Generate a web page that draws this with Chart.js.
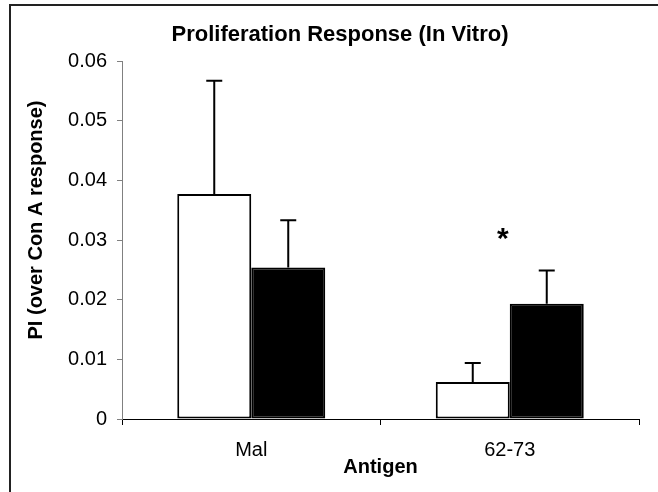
<!DOCTYPE html>
<html>
<head>
<meta charset="utf-8">
<title>Proliferation Response (In Vitro)</title>
<script src="https://cdn.jsdelivr.net/npm/chart.js@4/dist/chart.umd.min.js"></script>
<style>
  html, body { margin: 0; padding: 0; background: #fff; }
</style>
</head>
<body>
<canvas id="chart" width="658" height="492"></canvas>
<script>
// values
const categories = ['Mal', '62-73'];
const openValues = [0.0377, 0.0062];
const openErrors = [0.0190, 0.0032];
const filledValues = [0.0254, 0.0193];
const filledErrors = [0.0079, 0.0056];
const yTickLabels = ['0', '0.01', '0.02', '0.03', '0.04', '0.05', '0.06'];
const starCategory = 1;   // the "*" sits over 62-73
const starValue = 0.031;

const FONT = "'Liberation Sans', Arial, sans-serif";
const errors = [openErrors, filledErrors];

// white page, outer frame and the two titles
const framePlugin = {
  id: 'frame',
  beforeDraw(chart) {
    const ctx = chart.ctx;
    ctx.save();
    ctx.fillStyle = '#fff';
    ctx.fillRect(0, 0, chart.width, chart.height);
    ctx.strokeStyle = '#222';
    ctx.lineWidth = 2;
    ctx.strokeRect(10, 5, chart.width + 20, chart.height + 20);
    ctx.restore();
  },
  afterDraw(chart) {
    const ctx = chart.ctx;
    const area = chart.chartArea;
    ctx.save();
    ctx.fillStyle = '#000';
    ctx.font = `bold 22px ${FONT}`;
    ctx.textAlign = 'center';
    ctx.textBaseline = 'alphabetic';
    ctx.fillText('Proliferation Response (In Vitro)', 340, 41);

    ctx.font = `bold 20px ${FONT}`;
    ctx.translate(42, (area.top + area.bottom) / 2 - 20);
    ctx.rotate(-Math.PI / 2);
    ctx.fillText('PI (over Con A response)', 0, 0);
    ctx.restore();
  }
};

// upward error bars and the significance star
const errorBarPlugin = {
  id: 'errorBars',
  afterDatasetsDraw(chart) {
    const ctx = chart.ctx;
    const y = chart.scales.y;
    const x = chart.scales.x;
    ctx.save();
    ctx.strokeStyle = '#000';
    ctx.lineWidth = 2;
    chart.data.datasets.forEach((ds, d) => {
      const meta = chart.getDatasetMeta(d);
      meta.data.forEach((bar, i) => {
        const top = y.getPixelForValue(ds.data[i] + errors[d][i]);
        ctx.beginPath();
        ctx.moveTo(bar.x, bar.y);
        ctx.lineTo(bar.x, top);
        ctx.moveTo(bar.x - 8, top);
        ctx.lineTo(bar.x + 8, top);
        ctx.stroke();
      });
    });

    ctx.fillStyle = '#000';
    ctx.font = `bold 30px ${FONT}`;
    ctx.textAlign = 'center';
    ctx.textBaseline = 'alphabetic';
    const m = ctx.measureText('*');
    const cy = y.getPixelForValue(starValue);
    const base = cy + (m.actualBoundingBoxAscent - m.actualBoundingBoxDescent) / 2;
    ctx.fillText('*', x.getPixelForValue(starCategory) - 7, base);
    ctx.restore();
  }
};

new Chart(document.getElementById('chart'), {
  type: 'bar',
  data: {
    labels: categories,
    datasets: [
      {
        label: 'open',
        data: openValues,
        backgroundColor: '#fff',
        borderColor: '#000',
        borderWidth: 2,
        borderSkipped: false
      },
      {
        label: 'filled',
        data: filledValues,
        backgroundColor: '#000',
        borderColor: '#000',
        borderWidth: 2,
        borderSkipped: false
      }
    ]
  },
  options: {
    responsive: false,
    animation: false,
    devicePixelRatio: 1,
    layout: { padding: { top: 61, right: 19, left: 0, bottom: 0 } },
    datasets: { bar: { barPercentage: 1, categoryPercentage: 0.5725 } },
    plugins: {
      legend: { display: false },
      title: { display: false },
      tooltip: { enabled: false }
    },
    scales: {
      x: {
        grid: { drawOnChartArea: false, tickLength: 6, color: '#000' },
        border: { color: '#000', width: 1 },
        ticks: { color: '#000', padding: 13, font: { family: FONT, size: 20 } },
        title: {
          display: true,
          text: 'Antigen',
          color: '#000',
          font: { family: FONT, size: 20, weight: 'bold' },
          padding: { top: 0, bottom: 13 }
        },
        afterFit(scale) { scale.height = 73; }
      },
      y: {
        min: 0,
        max: 0.06,
        grid: { drawOnChartArea: false, tickLength: 5, color: '#808080' },
        border: { color: '#808080', width: 1 },
        ticks: {
          stepSize: 0.01,
          color: '#000',
          padding: 10,
          font: { family: FONT, size: 20 },
          callback: (v, i) => yTickLabels[i]
        },
        afterFit(scale) { scale.width = 122; }
      }
    }
  },
  plugins: [framePlugin, errorBarPlugin]
});
</script>
</body>
</html>
